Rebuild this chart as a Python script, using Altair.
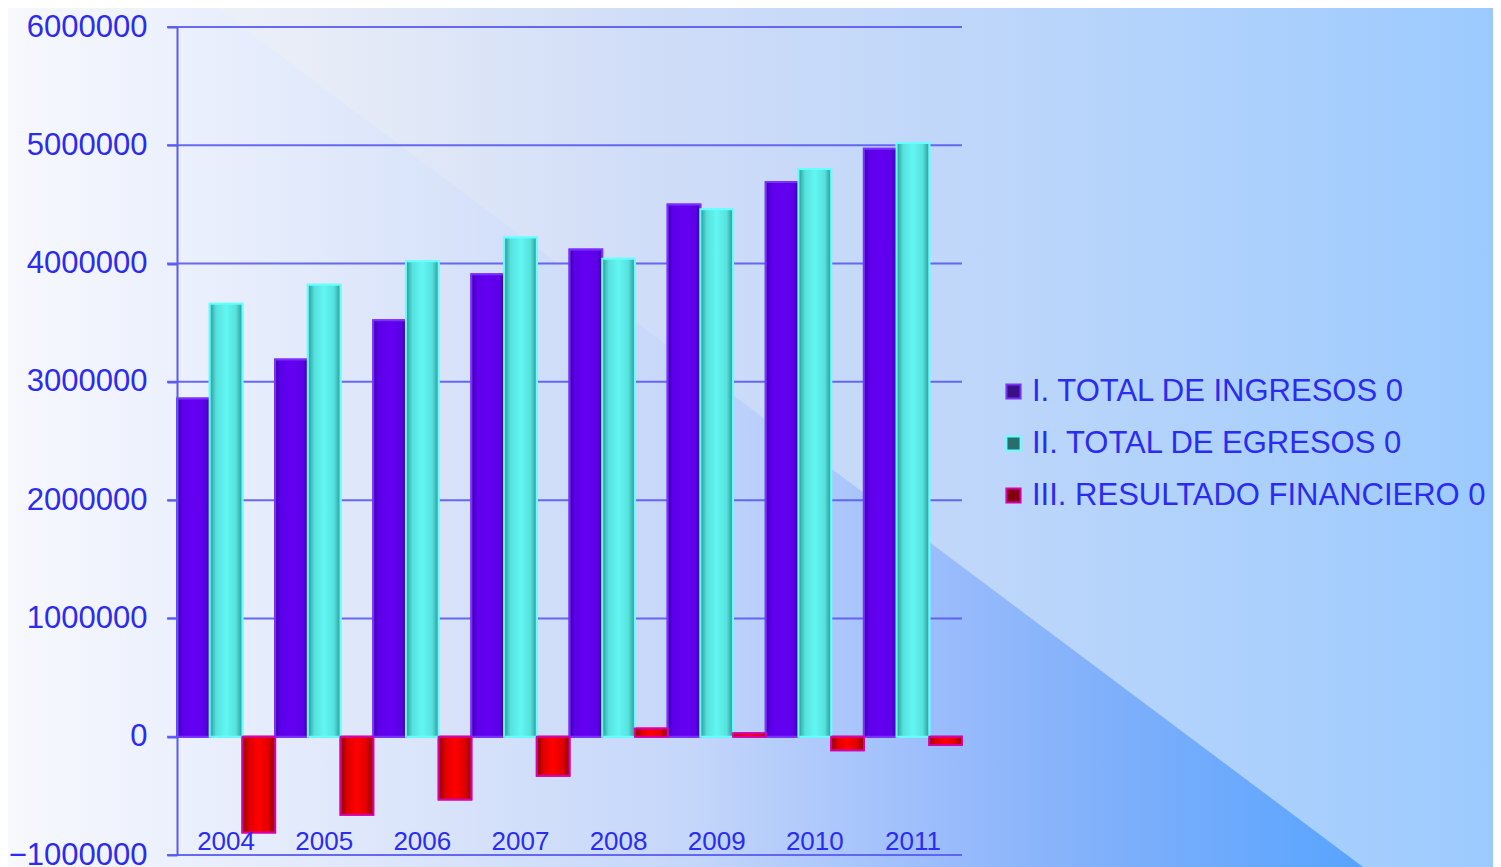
import altair as alt
import pandas as pd

# ---- data ----
years = ["2004", "2005", "2006", "2007", "2008", "2009", "2010", "2011"]
series_names = ["I. TOTAL DE INGRESOS 0", "II. TOTAL DE EGRESOS 0", "III. RESULTADO FINANCIERO 0"]
ingresos = [2860000, 3190000, 3520000, 3910000, 4120000, 4500000, 4690000, 4970000]
egresos = [3660000, 3820000, 4020000, 4220000, 4040000, 4460000, 4800000, 5020000]
resultado = [-810000, -660000, -530000, -330000, 70000, 30000, -115000, -70000]
y_ticks = [-1000000, 0, 1000000, 2000000, 3000000, 4000000, 5000000, 6000000]

rows = []
for vals, name in zip([ingresos, egresos, resultado], series_names):
    for yr, v in zip(years, vals):
        rows.append({"year": yr, "series": name, "value": v})
df = pd.DataFrame(rows)
ticks_df = pd.DataFrame({"v": y_ticks})
one = pd.DataFrame({"a": [0]})

# ---- styles ----
W, H = 785, 828
PAD = {"left": 169, "top": 19, "right": 531, "bottom": 12}
TXT = "#2b2bf2"
GRID = "#5a5af0"
FONT = "Liberation Sans"

def grad(stops):
    return alt.LinearGradient(
        gradient="linear", x1=0, y1=0, x2=1, y2=0,
        stops=[alt.GradientStop(color=c, offset=o) for o, c in stops],
    )

bg_grad = grad([(0, "#f4f6fb"), (0.2, "#e8edf7"), (0.43, "#d0ddf8"),
                (0.67, "#bdd6fa"), (0.8, "#b0d2fc"), (1, "#9ccaff")])
tri_grad = grad([(0, "#f8f9fe"), (0.33, "#d8e3fa"), (0.51, "#c4d6fa"),
                 (0.70, "#98bbfc"), (0.81, "#80b0fa"), (0.98, "#5ca5ff"), (1, "#58a3ff")])

g_ing = grad([(0, "#3a00a8"), (0.15, "#5c00e8"), (0.5, "#6400f2"), (0.85, "#5c00e8"), (1, "#3a00a8")])
g_egr = grad([(0, "#2c9896"), (0.2, "#56e2de"), (0.5, "#62f6f2"), (0.8, "#56e2de"), (1, "#2c9896")])
g_res = grad([(0, "#8a0000"), (0.2, "#e00000"), (0.5, "#ff0000"), (0.8, "#e00000"), (1, "#8a0000")])

legend_fills = ["#3a1088", "#2a6e6c", "#800010"]
strokes = ["#7a30ff", "#66ffff", "#d800a8"]

# ---- background decoration ----
bg_rect = alt.Chart(one).mark_rect(fill=bg_grad, strokeWidth=0).encode(
    x=alt.value(-PAD["left"]), x2=alt.value(W + PAD["right"]),
    y=alt.value(-PAD["top"]), y2=alt.value(H + PAD["bottom"]),
)
tri_path = "M -0.177 -0.027 L 0.029 -0.027 L 1.186 0.840 L -0.177 0.840 Z"
bg_tri = alt.Chart(one).mark_point(filled=True, fill=tri_grad, opacity=1, strokeWidth=0).encode(
    x=alt.value(0), y=alt.value(0), shape=alt.value(tri_path), size=alt.value(4000000),
)

yscale = alt.Scale(domain=[-1000000, 6000000], nice=False, zero=False)

grid = alt.Chart(ticks_df).mark_rule(color=GRID, strokeWidth=2, opacity=0.9).encode(
    y=alt.Y("v:Q", scale=yscale, title=None,
            axis=alt.Axis(values=y_ticks, format="d", grid=False, domain=True,
                          domainColor=GRID, domainWidth=2, ticks=True, tickColor=GRID,
                          tickSize=10, tickWidth=2, labelFontSize=31, labelColor=TXT,
                          labelFont=FONT, labelPadding=20, zindex=1)),
    x=alt.value(-10), x2=alt.value(W),
)

xenc = alt.X("year:N", sort=years, title=None,
             scale=alt.Scale(paddingInner=0, paddingOuter=0),
             axis=alt.Axis(labelAngle=0, domain=False, ticks=False, labelFontSize=26,
                           labelColor=TXT, labelFont=FONT, labelPadding=-27, zindex=1))
xoff = alt.XOffset("series:N", sort=series_names,
                   scale=alt.Scale(domain=series_names, paddingInner=0, paddingOuter=0))

leg = alt.Legend(title=None, orient="none", legendX=821, legendY=349,
                 symbolType="square", symbolSize=200, symbolStrokeWidth=2,
                 labelFontSize=31, labelColor=TXT, labelFont=FONT, labelLimit=0,
                 rowPadding=20, labelOffset=3, padding=0)

legend_bars = alt.Chart(df).mark_bar(strokeWidth=2).encode(
    x=xenc, xOffset=xoff,
    y=alt.Y("value:Q", scale=yscale, title=None),
    fill=alt.Fill("series:N", sort=series_names,
                  scale=alt.Scale(domain=series_names, range=legend_fills), legend=leg),
    stroke=alt.Stroke("series:N", sort=series_names,
                      scale=alt.Scale(domain=series_names, range=strokes), legend=leg),
)

is_ing = alt.datum.series == series_names[0]
is_egr = alt.datum.series == series_names[1]
grad_bars = alt.Chart(df).mark_bar(strokeWidth=2).encode(
    x=xenc, xOffset=xoff,
    y=alt.Y("value:Q", scale=yscale, title=None),
    fill=alt.when(is_ing).then(alt.value(g_ing)).when(is_egr).then(alt.value(g_egr)).otherwise(alt.value(g_res)),
    stroke=alt.when(is_ing).then(alt.value(strokes[0])).when(is_egr).then(alt.value(strokes[1])).otherwise(alt.value(strokes[2])),
)

chart = alt.layer(bg_rect, bg_tri, grid, legend_bars, grad_bars).properties(
    width=W, height=H,
    autosize=alt.AutoSizeParams(type="none"),
    padding=PAD,
).configure(background="#f6f8fd").configure_view(strokeWidth=0)

chart.save("out.html", embed_options={"renderer": "svg", "actions": False})
